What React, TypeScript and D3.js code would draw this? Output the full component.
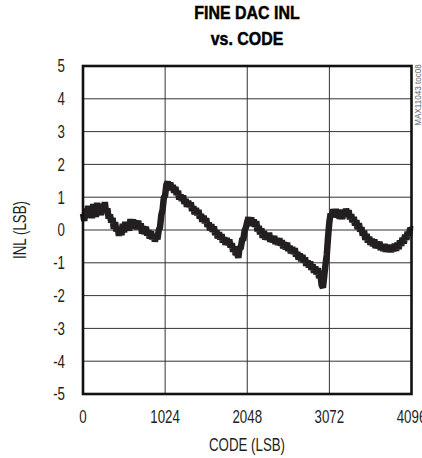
import React from "react";
import * as d3 from "d3";

const title = ["FINE DAC INL", "vs. CODE"];
const xTicks = [0, 1024, 2048, 3072, 4096];
const yTicks = [-5, -4, -3, -2, -1, 0, 1, 2, 3, 4, 5];
const xLabel = "CODE (LSB)";
const yLabel = "INL (LSB)";
const note = "MAX11043 toc08";

const codeStep = 16;
const inl = [
  0.50, 0.28, 0.65, 0.37, 0.74, 0.47, 0.70, 0.36, 0.79, 0.59,
  0.40, 0.83, 0.51, 0.77, 0.45, 0.80, 0.56, 0.85, 0.52, 0.66,
  0.35, 0.47, 0.23, 0.37, 0.04, 0.24, -0.04, 0.10, -0.18, 0.10,
  -0.16, 0.19, -0.07, 0.25, -0.01, 0.24, -0.02, 0.33, 0.08, 0.32,
  0.05, 0.29, 0.02, 0.28, 0.03, 0.20, -0.11, 0.11, -0.13, 0.10,
  -0.17, -0.01, -0.26, -0.04, -0.28, -0.13, -0.35, -0.18, -0.28, -0.01,
  0.08, 0.45, 0.61, 0.98, 1.06, 1.38, 1.47, 1.30, 1.45, 1.22,
  1.37, 1.14, 1.31, 1.07, 1.20, 0.93, 1.08, 0.89, 1.05, 0.80,
  0.94, 0.71, 0.89, 0.70, 0.84, 0.58, 0.72, 0.48, 0.67, 0.45,
  0.61, 0.35, 0.49, 0.25, 0.43, 0.21, 0.36, 0.10, 0.23, -0.01,
  0.17, -0.05, 0.11, -0.15, -0.01, -0.25, -0.07, -0.29, -0.13, -0.38,
  -0.22, -0.45, -0.25, -0.46, -0.29, -0.53, -0.40, -0.66, -0.50, -0.76,
  -0.67, -0.85, -0.55, -0.53, -0.30, -0.27, -0.02, 0.08, 0.25, 0.38,
  0.22, 0.38, 0.13, 0.32, 0.10, 0.27, -0.04, 0.12, -0.13, 0.05,
  -0.24, -0.03, -0.29, -0.09, -0.30, -0.08, -0.36, -0.18, -0.38, -0.18,
  -0.43, -0.25, -0.45, -0.25, -0.47, -0.31, -0.56, -0.38, -0.59, -0.39,
  -0.64, -0.48, -0.71, -0.52, -0.73, -0.56, -0.81, -0.67, -0.90, -0.72,
  -0.95, -0.76, -0.99, -0.84, -1.09, -0.93, -1.14, -0.96, -1.21, -1.05,
  -1.30, -1.11, -1.35, -1.16, -1.47, -1.37, -1.68, -1.76, -1.40, -1.05,
  -0.75, -0.20, 0.25, 0.50, 0.40, 0.63, 0.40, 0.64, 0.38, 0.62,
  0.34, 0.52, 0.33, 0.62, 0.41, 0.65, 0.47, 0.60, 0.33, 0.48,
  0.24, 0.40, 0.14, 0.30, 0.03, 0.21, -0.05, 0.08, -0.17, -0.02,
  -0.30, -0.12, -0.38, -0.21, -0.45, -0.27, -0.49, -0.29, -0.55, -0.35,
  -0.56, -0.36, -0.61, -0.43, -0.64, -0.43, -0.66, -0.46, -0.67, -0.45,
  -0.68, -0.46, -0.65, -0.42, -0.63, -0.39, -0.58, -0.32, -0.48, -0.24,
  -0.41, -0.14, -0.30, -0.05, -0.18, 0.06, 0.02,
];

const W = 422;
const H = 458;
const left = 83;
const right = 411.5;
const top = 66;
const bottom = 394;
const font = "'Liberation Sans', Arial, sans-serif";

function NText({ x, y, sx = 0.76, anchor = "middle", size = 17.5, weight = "normal", rotate = 0, fill = "#231f20", stroke = "none", children }: any) {
  return (
    <text
      transform={`translate(${x},${y}) rotate(${rotate}) scale(${sx},1)`}
      textAnchor={anchor}
      fontFamily={font}
      fontSize={size}
      fontWeight={weight}
      fill={fill}
      stroke={stroke}
      strokeWidth={0.5}
    >
      {children}
    </text>
  );
}

export default function App() {
  const x = d3.scaleLinear().domain([0, 4096]).range([left, right]);
  const y = d3.scaleLinear().domain([-5, 5]).range([bottom, top]);
  const data = inl.map((v, i) => [i * codeStep, v] as [number, number]);
  const path = d3
    .line<[number, number]>()
    .x((d) => x(d[0]))
    .y((d) => y(d[1]))(data) as string;

  return (
    <svg
      width={W}
      height={H}
      style={{ position: "absolute", left: 0, top: 0, background: "#fff" }}
    >
      <rect x={0} y={0} width={W} height={H} fill="#fff" />
      {title.map((t, i) => (
        <NText key={t} x={247} y={18.5 + i * 26.5} sx={0.84} size={19} weight="bold" fill="#000" stroke="#000">
          {t}
        </NText>
      ))}
      {yTicks.slice(1, -1).map((t) => (
        <line key={"h" + t} x1={left} x2={right} y1={y(t)} y2={y(t)} stroke="#333" strokeWidth={1} />
      ))}
      {xTicks.slice(1, -1).map((t) => (
        <line key={"v" + t} x1={x(t)} x2={x(t)} y1={top} y2={bottom} stroke="#333" strokeWidth={1} />
      ))}
      <path d={path} fill="none" stroke="#231f20" strokeWidth={6.5} strokeLinejoin="miter" strokeMiterlimit={2} />
      <rect x={left} y={top} width={right - left} height={bottom - top} fill="none" stroke="#111" strokeWidth={2.6} />
      {yTicks.map((t) => (
        <NText key={"yl" + t} x={65} y={y(t) + 6.3} anchor="end">
          {t}
        </NText>
      ))}
      {xTicks.map((t) => (
        <NText key={"xl" + t} x={x(t)} y={423}>
          {t}
        </NText>
      ))}
      <NText x={247} y={451}>{xLabel}</NText>
      <NText x={26} y={230} rotate={-90}>{yLabel}</NText>
      <NText x={421} y={95} rotate={-90} sx={0.9} size={9} fill="#666">{note}</NText>
    </svg>
  );
}
